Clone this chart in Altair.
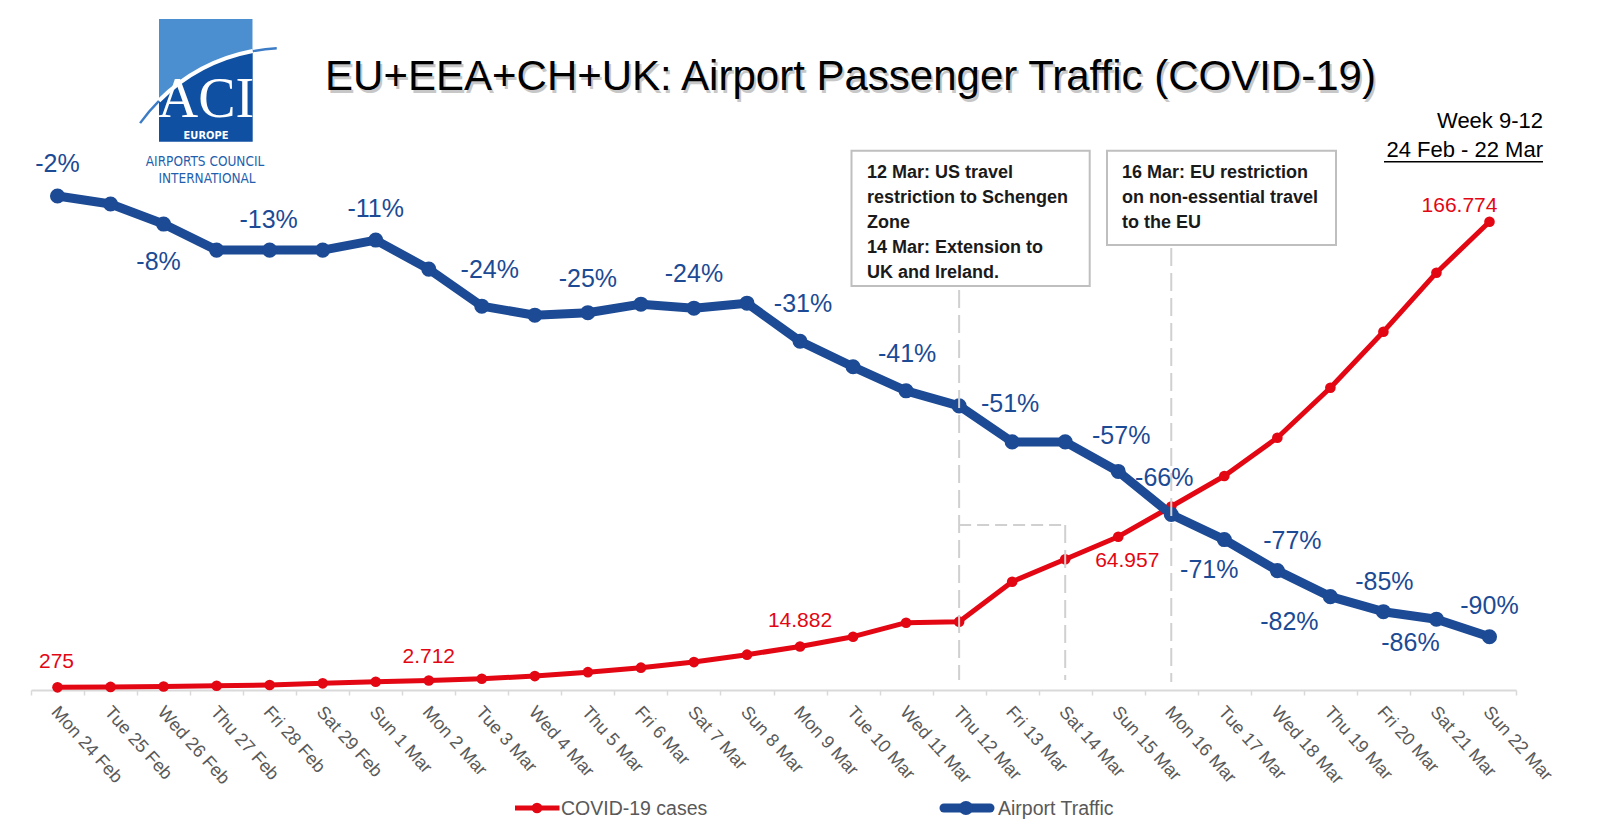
import altair as alt
import pandas as pd

# ---------------- data ----------------
days = ["Mon 24 Feb", "Tue 25 Feb", "Wed 26 Feb", "Thu 27 Feb", "Fri 28 Feb", "Sat 29 Feb",
        "Sun 1 Mar", "Mon 2 Mar", "Tue 3 Mar", "Wed 4 Mar", "Thu 5 Mar", "Fri 6 Mar",
        "Sat 7 Mar", "Sun 8 Mar", "Mon 9 Mar", "Tue 10 Mar", "Wed 11 Mar", "Thu 12 Mar",
        "Fri 13 Mar", "Sat 14 Mar", "Sun 15 Mar", "Mon 16 Mar", "Tue 17 Mar", "Wed 18 Mar",
        "Thu 19 Mar", "Fri 20 Mar", "Sat 21 Mar", "Sun 22 Mar"]

traffic = [-2.0, -3.6, -7.6, -12.8, -12.8, -12.8, -10.8, -16.6, -24.0, -25.8, -25.3, -23.6,
           -24.4, -23.4, -31.0, -36.1, -40.9, -43.9, -51.1, -51.1, -57.0, -65.6, -70.6, -76.8,
           -82.0, -85.0, -86.5, -90.0]

cases = [275, 420, 560, 850, 1100, 1700, 2250, 2712, 3350, 4300, 5700, 7300,
         9300, 11950, 14882, 18380, 23390, 23750, 38050, 46060, 54140, 64957, 75850, 89540,
         107420, 127450, 148550, 166774]

traffic_label_days = ["Mon 24 Feb", "Wed 26 Feb", "Fri 28 Feb", "Sun 1 Mar", "Tue 3 Mar", "Thu 5 Mar",
                      "Sat 7 Mar", "Mon 9 Mar", "Wed 11 Mar", "Fri 13 Mar", "Sun 15 Mar", "Mon 16 Mar",
                      "Tue 17 Mar", "Wed 18 Mar", "Thu 19 Mar", "Fri 20 Mar", "Sat 21 Mar", "Sun 22 Mar"]
traffic_label_texts = ["-2%", "-8%", "-13%", "-11%", "-24%", "-25%", "-24%", "-31%", "-41%", "-51%",
                       "-57%", "-66%", "-71%", "-77%", "-82%", "-85%", "-86%", "-90%"]

case_label_days = ["Mon 24 Feb", "Mon 2 Mar", "Mon 9 Mar", "Mon 16 Mar", "Sun 22 Mar"]
case_label_texts = ["275", "2.712", "14.882", "64.957", "166.774"]

title_text = "EU+EEA+CH+UK: Airport Passenger Traffic (COVID-19)"
note1_lines = ["12 Mar: US travel", "restriction to Schengen", "Zone", "14 Mar: Extension to", "UK and Ireland."]
note2_lines = ["16 Mar: EU restriction", "on non-essential travel", "to the EU"]
week_text = "Week 9-12"
range_text = "24 Feb - 22 Mar"
legend_cases = "COVID-19 cases"
legend_traffic = "Airport Traffic"
note1_day = "Thu 12 Mar"
note1_day2 = "Sat 14 Mar"
note2_day = "Mon 16 Mar"

# ---------------- styles ----------------
BLUE = "#1c4a94"
RED = "#e30613"
GREY_TXT = "#595959"
DASH = "#d0d0d0"
LOGO_LIGHT = "#4b8fd0"
LOGO_DARK = "#0f50a2"
LOGO_TXT = "#1f5fae"
FONT = "Liberation Sans"
NARROW = "Liberation Sans Narrow, DejaVu Sans Condensed, sans-serif"

W, H = 1485, 682
PX0, PY0 = 31, 8          # page position of plot origin


def px(v):
    return v - PX0


def py(v):
    return v - PY0


BLUE_DOM = [-100.64, 35.54]
RED_DOM = [-679, 243204]

# label offsets (dx, dy) relative to the point, baseline alphabetic
traffic_offsets = {
    "Mon 24 Feb": (0, -24), "Wed 26 Feb": (-5, 46), "Fri 28 Feb": (-1, -22), "Sun 1 Mar": (0, -23),
    "Tue 3 Mar": (8, -28), "Thu 5 Mar": (0, -26), "Sat 7 Mar": (0, -26), "Mon 9 Mar": (3, -29),
    "Wed 11 Mar": (1, -29), "Fri 13 Mar": (-2, -30), "Sun 15 Mar": (3, -27), "Mon 16 Mar": (-7, -29),
    "Tue 17 Mar": (-15, 38), "Wed 18 Mar": (15, -22), "Thu 19 Mar": (-41, 33), "Fri 20 Mar": (1, -22),
    "Sat 21 Mar": (-26, 32), "Sun 22 Mar": (0, -23),
}
case_offsets = {
    "Mon 24 Feb": (-1, -19), "Mon 2 Mar": (0, -18), "Mon 9 Mar": (0, -19),
    "Mon 16 Mar": (-44, 61), "Sun 22 Mar": (-30, -10),
}

df = pd.DataFrame({"day": days, "traffic": traffic, "cases": cases})
one = pd.DataFrame({"k": [0]})

xscale = alt.Scale(type="band", domain=days, paddingInner=0, paddingOuter=0)
x_axis = alt.Axis(title=None, labelAngle=48, labelAlign="left", labelBaseline="top",
                  labelFont=FONT, labelFontSize=18, labelColor=GREY_TXT, labelPadding=8,
                  labelOffset=3, labelOverlap=False, labelFlush=False, labelBound=False,
                  domainColor="#d9d9d9", domainWidth=2, tickColor="#d9d9d9", tickWidth=1.5,
                  tickSize=5, tickBand="extent", grid=False)
X = alt.X("day:N", scale=xscale, axis=x_axis, bandPosition=0.5)
YB = alt.Y("traffic:Q", scale=alt.Scale(domain=BLUE_DOM, nice=False, zero=False), axis=None)
YR = alt.Y("cases:Q", scale=alt.Scale(domain=RED_DOM, nice=False, zero=False), axis=None)


def ann():
    return alt.Chart(one)


def rect(x1, x2, y1, y2, **kw):
    return ann().mark_rect(**kw).encode(x=alt.value(px(x1)), x2=alt.value(px(x2)),
                                        y=alt.value(py(y1)), y2=alt.value(py(y2)))


def text(x, y, t, **kw):
    return ann().mark_text(text=t, **kw).encode(x=alt.value(px(x)), y=alt.value(py(y)))


layers = []

# ---- logo ----
CX, CY, R = 286.7, 228.6, 180.6
layers.append(rect(159, 252.7, 19, 141.7, color=LOGO_LIGHT))
layers.append(ann().mark_arc(color=LOGO_DARK, theta=5.2, theta2=6.283, radius=R, radius2=0)
              .encode(x=alt.value(px(CX)), y=alt.value(py(CY))))
layers.append(rect(90, 300, 141.7, 240, color="white"))
layers.append(rect(252.7, 300, 10, 240, color="white"))
layers.append(rect(90, 159, 10, 240, color="white"))
layers.append(ann().mark_arc(color="#3c7cc6", theta=5.336, theta2=5.498, radius=R + 1.2, radius2=R - 1.2)
              .encode(x=alt.value(px(CX)), y=alt.value(py(CY))))
layers.append(ann().mark_arc(color="#3c7cc6", theta=6.094, theta2=6.228, radius=R + 1.2, radius2=R - 1.2)
              .encode(x=alt.value(px(CX)), y=alt.value(py(CY))))
layers.append(ann().mark_arc(color="white", theta=5.498, theta2=6.094, radius=R + 2.2, radius2=R - 1.8)
              .encode(x=alt.value(px(CX)), y=alt.value(py(CY))))
layers.append(text(206, 117, "ACI", font="Liberation Serif", fontSize=56, color="white",
                   align="center", baseline="alphabetic"))
layers.append(text(206, 139, "EUROPE", font=NARROW, fontSize=11, fontWeight="bold", color="white",
                   align="center", baseline="alphabetic"))
layers.append(text(205, 165.5, "AIRPORTS COUNCIL", font=NARROW, fontSize=13.5, color=LOGO_TXT,
                   align="center", baseline="alphabetic"))
layers.append(text(207, 183, "INTERNATIONAL", font=NARROW, fontSize=13.5, color=LOGO_TXT,
                   align="center", baseline="alphabetic"))

# ---- title & subtitle ----
layers.append(text(852.5, 92.5, title_text, font=FONT, fontSize=42, color="#9a9a9a", opacity=0.55,
                   align="center", baseline="alphabetic"))
layers.append(text(850.5, 89.5, title_text, font=FONT, fontSize=42, color="black",
                   align="center", baseline="alphabetic"))
layers.append(text(1543, 127.7, week_text, font=FONT, fontSize=22, color="black",
                   align="right", baseline="alphabetic"))
layers.append(text(1543, 157.3, range_text, font=FONT, fontSize=22, color="black",
                   align="right", baseline="alphabetic"))
layers.append(ann().mark_rule(color="black", strokeWidth=1.5).encode(
    x=alt.value(px(1384)), x2=alt.value(px(1543)), y=alt.value(py(161.7))))

# ---- series ----
layers.append(alt.Chart(df).mark_line(color=RED, strokeWidth=5, strokeJoin="round").encode(x=X, y=YR))
layers.append(alt.Chart(df).mark_point(filled=True, color=RED, opacity=1, size=113).encode(x=X, y=YR))
layers.append(alt.Chart(df).mark_line(color=BLUE, strokeWidth=9, strokeJoin="round").encode(x=X, y=YB))
layers.append(alt.Chart(df).mark_point(filled=True, color=BLUE, opacity=1, size=227).encode(x=X, y=YB))

# ---- dashed guide lines ----
d1 = df[df.day == note1_day]
d2 = df[df.day == note1_day2]
d3 = df[df.day == note2_day]
layers.append(alt.Chart(d1).mark_rule(color=DASH, strokeWidth=2, strokeDash=[18, 7]).encode(
    x=X, y=alt.value(py(290)), y2=alt.value(py(680))))
layers.append(alt.Chart(d3).mark_rule(color=DASH, strokeWidth=2, strokeDash=[18, 7]).encode(
    x=X, y=alt.value(py(248)), y2=alt.value(py(682))))
layers.append(alt.Chart(d2).mark_rule(color=DASH, strokeWidth=2, strokeDash=[18, 7]).encode(
    x=X, y=alt.value(py(525)), y2=alt.value(py(680))))
layers.append(alt.Chart(pd.concat([d1, d2])).mark_line(color=DASH, strokeWidth=2, strokeDash=[12, 6]).encode(
    x=X, y=alt.value(py(525))))

# ---- annotation boxes ----
layers.append(rect(851.5, 1089.7, 150.7, 286, fill="white", stroke="#bfbfbf", strokeWidth=2))
layers.append(rect(1107, 1336, 150.7, 245, fill="white", stroke="#bfbfbf", strokeWidth=2))
layers.append(text(867, 178.3, note1_lines, font=FONT, fontSize=18, fontWeight="bold", color="#1a1a1a",
                   align="left", baseline="alphabetic", lineHeight=25))
layers.append(text(1122, 178.3, note2_lines, font=FONT, fontSize=18, fontWeight="bold", color="#1a1a1a",
                   align="left", baseline="alphabetic", lineHeight=25))

# ---- data labels ----
for d, t in zip(traffic_label_days, traffic_label_texts):
    i = days.index(d)
    ddx, ddy = traffic_offsets[d]
    sub = pd.DataFrame({"day": [d], "traffic": [traffic[i]], "label": [t]})
    layers.append(alt.Chart(sub).mark_text(font=FONT, fontSize=25, color=BLUE, dx=ddx, dy=ddy,
                                           align="center", baseline="alphabetic")
                  .encode(x=X, y=YB, text="label:N"))
for d, t in zip(case_label_days, case_label_texts):
    i = days.index(d)
    ddx, ddy = case_offsets[d]
    sub = pd.DataFrame({"day": [d], "cases": [cases[i]], "label": [t]})
    layers.append(alt.Chart(sub).mark_text(font=FONT, fontSize=21, color=RED, dx=ddx, dy=ddy,
                                           align="center", baseline="alphabetic")
                  .encode(x=X, y=YR, text="label:N"))

# ---- legend ----
layers.append(ann().mark_rule(color=RED, strokeWidth=5).encode(
    x=alt.value(px(515)), x2=alt.value(px(559.5)), y=alt.value(py(808))))
layers.append(ann().mark_point(filled=True, color=RED, opacity=1, size=113).encode(
    x=alt.value(px(537)), y=alt.value(py(808))))
layers.append(text(561, 815, legend_cases, font=FONT, fontSize=19.5, color=GREY_TXT,
                   align="left", baseline="alphabetic"))
layers.append(ann().mark_rule(color=BLUE, strokeWidth=9, strokeCap="round").encode(
    x=alt.value(px(944)), x2=alt.value(px(990)), y=alt.value(py(808))))
layers.append(ann().mark_point(filled=True, color=BLUE, opacity=1, size=200).encode(
    x=alt.value(px(966)), y=alt.value(py(808))))
layers.append(text(998, 815, legend_traffic, font=FONT, fontSize=19.5, color=GREY_TXT,
                   align="left", baseline="alphabetic"))

chart = alt.layer(*layers).resolve_scale(y="independent").properties(
    width=W, height=H,
    autosize=alt.AutoSizeParams(type="none"),
    padding={"left": 23, "top": 0, "right": 80, "bottom": 133},
    background="white",
).configure_view(stroke=None)

chart.save("out.html", embed_options={"renderer": "svg", "actions": False})
